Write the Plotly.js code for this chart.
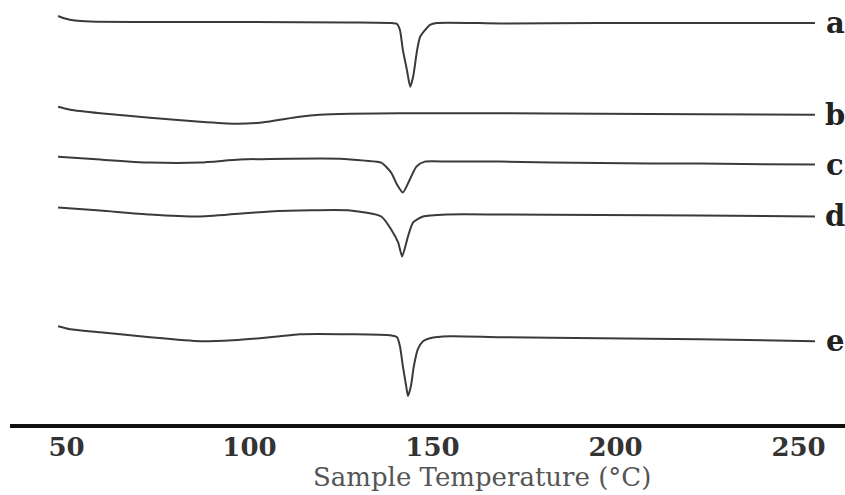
<!DOCTYPE html>
<html>
<head>
<meta charset="utf-8">
<script src="https://cdn.plot.ly/plotly-3.0.1.min.js"></script>
<style>html,body{margin:0;padding:0;background:#fff;}#chart{width:845px;height:495px;}</style>
</head>
<body>
<div id="chart"></div>
<script>
// Sample temperature (°C) and downward-plotted heat-flow readings (arbitrary units, larger = lower on the chart)
const curveLabels = ["a", "b", "c", "d", "e"];

const tempA = [47.7, 49.6, 52.3, 56.4, 72.8, 100, 127.5, 138.4, 140.3, 141.1, 141.9, 143.0, 143.9, 144.7, 145.8, 146.6, 148.0, 149.3, 151.2, 168.5, 195.7, 223, 254.5];
const flowA = [16, 18.5, 20.5, 21.5, 22, 22, 22.5, 23, 24, 30, 50, 70, 87, 77, 50, 37, 30, 25, 23, 23.5, 23, 23, 23];

const tempB = [47.7, 51.0, 59.2, 72.8, 86.5, 96.0, 102.8, 108.3, 113.7, 119.2, 127.5, 141.1, 168.5, 195.7, 223, 254.5];
const flowB = [107, 110, 113.5, 118, 122, 124, 123, 120, 117, 115, 114, 113.5, 113.5, 114, 114.5, 115];

const tempC = [47.7, 59.2, 72.8, 86.5, 97.4, 111.0, 124.7, 131.5, 136.0, 138.7, 140.3, 141.9, 143.8, 145.6, 147.9, 154.7, 168.5, 195.7, 223, 254.5];
const flowC = [157, 160, 163, 163, 160, 159, 159, 161, 163, 173, 185, 193, 180, 167, 162, 162, 162, 163.5, 164, 165];

const tempD = [47.7, 59.2, 72.8, 86.5, 105.6, 127.5, 136.0, 138.7, 140.6, 141.7, 143.3, 144.7, 147.4, 154.2, 168.5, 195.7, 223, 254.5];
const flowD = [208, 211, 215, 217, 212, 211, 217, 230, 243, 257, 237, 223, 217, 215, 215, 215.5, 216, 217];

const tempE = [47.7, 51.0, 59.2, 72.8, 86.5, 95.5, 102.8, 108.3, 113.7, 127.5, 138.4, 140.3, 141.1, 141.9, 142.8, 143.3, 144.1, 144.9, 146.0, 147.4, 149.3, 154.7, 168.5, 195.7, 223, 254.5];
const flowE = [327, 330, 333, 338, 342, 341, 339, 337, 335, 335, 336, 338, 347, 367, 387, 397, 387, 367, 350, 342, 339, 337, 338, 339, 340, 342];

const tickVals = [50, 100, 150, 200, 250];
const tickText = ["50", "100", "150", "200", "250"];
const xTitle = "Sample Temperature (°C)";

const temps = [tempA, tempB, tempC, tempD, tempE];
const flows = [flowA, flowB, flowC, flowD, flowE];

const traces = temps.map((t, i) => ({
  x: t, y: flows[i], type: "scatter", mode: "lines",
  line: {color: "#3a3a3a", width: 2, shape: "spline", smoothing: 0.6},
  name: curveLabels[i], hoverinfo: "skip"
}));

const labelX = 260;
const annotations = curveLabels.map((lab, i) => ({
  x: labelX, y: flows[i][flows[i].length - 1], xref: "x", yref: "y",
  text: lab, showarrow: false, xanchor: "center", yanchor: "middle",
  font: {family: "DejaVu Serif", size: 29, color: "#222", weight: "bold"}
}));
annotations.push({
  x: 0.565, y: -0.126, xref: "paper", yref: "paper",
  text: xTitle, showarrow: false, xanchor: "center", yanchor: "middle",
  font: {family: "DejaVu Serif", size: 26, color: "#555"}
});

const layout = {
  width: 845, height: 495,
  margin: {l: 10, r: 0, t: 0, b: 71},
  paper_bgcolor: "#fff", plot_bgcolor: "#fff",
  showlegend: false,
  xaxis: {
    range: [34.56, 262.7], showgrid: false, zeroline: false,
    showline: true, linewidth: 4, linecolor: "#111",
    ticks: "", tickvals: tickVals, ticktext: tickText,
    ticklabelstandoff: -3,
    tickfont: {family: "DejaVu Serif", size: 26, color: "#333", weight: "bold"},
    automargin: false
  },
  yaxis: {
    range: [425, 0], visible: false, showgrid: false, zeroline: false, fixedrange: true
  },
  annotations: annotations
};

Plotly.newPlot("chart", traces, layout, {displayModeBar: false, staticPlot: true});
</script>
</body>
</html>
